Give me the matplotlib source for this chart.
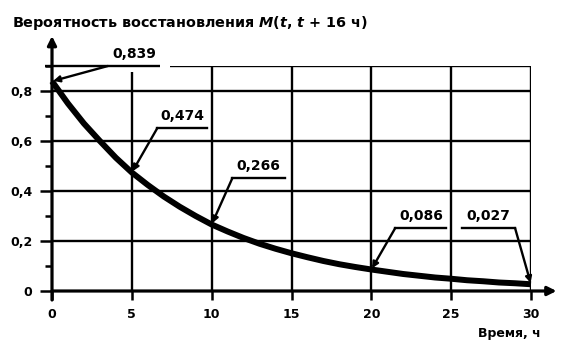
import matplotlib.pyplot as plt

plt.rcParams['font.family'] = ['DejaVu Sans']
plt.rcParams['font.weight'] = 'bold'
plt.rcParams['mathtext.fontset'] = 'custom'
plt.rcParams['mathtext.bfit'] = 'DejaVu Sans:italic:bold'
plt.rcParams['mathtext.it'] = 'DejaVu Sans:italic:bold'

# вероятность восстановления по времени, ч
hours = list(range(31))
prob = [0.839, 0.750, 0.670, 0.600, 0.533, 0.474, 0.424, 0.378, 0.337, 0.300,
        0.266, 0.238, 0.212, 0.189, 0.169, 0.151, 0.135, 0.120, 0.107, 0.096,
        0.086, 0.077, 0.068, 0.061, 0.054, 0.049, 0.043, 0.039, 0.034, 0.031,
        0.027]

# подписанные значения
mark_t = [0, 5, 10, 20, 30]
mark_v = [0.839, 0.474, 0.266, 0.086, 0.027]

xticks = [0, 5, 10, 15, 20, 25, 30]
yticks = [0, 0.2, 0.4, 0.6, 0.8]

# полки подписей: начало, конец, высота, к какому концу идёт выноска
shelves = [(3.5, 6.76, 0.9, 0), (6.6, 9.7, 0.652, 0), (11.3, 14.6, 0.452, 0),
           (21.5, 24.7, 0.252, 0), (25.7, 29.0, 0.252, 1)]

fig = plt.figure(figsize=(5.61, 3.41), dpi=100)
ax = fig.add_axes([52 / 561, 50 / 341, 479 / 561, 225 / 341])
ax.set_xlim(0, 30)
ax.set_ylim(0, 0.9)
for s in ax.spines.values():
    s.set_visible(False)

lw_grid = 1.7
ax.vlines(xticks[1:], 0, [0.875 if x == 5 else 0.9 for x in xticks[1:]],
          color='k', lw=lw_grid)
ax.hlines(yticks[1:], 0, 30, color='k', lw=lw_grid)
ax.hlines(0.9, -0.45, 6.76, color='k', lw=lw_grid, clip_on=False)
ax.hlines(0.9, 7.4, 30, color='k', lw=lw_grid)

# оси со стрелками
arrow = dict(arrowstyle='-|>', lw=2.3, color='k', mutation_scale=13, shrinkA=0, shrinkB=0)
ax.annotate('', xy=(0, 1.02), xytext=(0, -0.036), arrowprops=arrow, annotation_clip=False)
ax.annotate('', xy=(31.6, 0), xytext=(0, 0), arrowprops=arrow, annotation_clip=False)

ax.plot(hours, prob, color='k', lw=4.3, solid_capstyle='butt',
        solid_joinstyle='round', clip_on=False)

for t, v, (x0, x1, y, side) in zip(mark_t, mark_v, shelves):
    if y < 0.9:
        ax.plot([x0, x1], [y, y], color='k', lw=lw_grid)
    ax.text((x0 + x1) / 2, y + 0.022, f'{v:.3f}'.replace('.', ','),
            ha='center', va='bottom', fontsize=10, fontweight='bold')
    ax.annotate('', xy=(t, v), xytext=(x1 if side else x0, y),
                arrowprops=dict(arrowstyle='-|>', lw=1.7, color='k',
                                mutation_scale=9, shrinkA=0, shrinkB=1),
                annotation_clip=False)

ax.set_xticks(xticks)
ax.set_xticklabels([str(x) for x in xticks])
ax.set_yticks(yticks)
ax.set_yticklabels(['0'] + [f'{y:.1f}'.replace('.', ',') for y in yticks[1:]])
ax.set_yticks([0.1, 0.3, 0.5, 0.7, 0.9], minor=True)
ax.tick_params(axis='y', which='major', length=8.6, width=1.8, pad=5.5, labelsize=9)
ax.tick_params(axis='y', which='minor', length=5, width=1.8)
ax.tick_params(axis='x', which='major', length=6.5, width=1.8, pad=6, labelsize=9)

ax.text(-2.5, 1.072, r'Вероятность восстановления $\mathbfit{M}$($\mathbfit{t}$, $\mathbfit{t}$ + 16 ч)',
        fontsize=10.4, fontweight='bold', ha='left', va='center', clip_on=False)
ax.text(30.6, -0.168, 'Время, ч', fontsize=9, fontweight='bold',
        ha='right', va='center', clip_on=False)

fig.savefig('out.png', dpi=100)
